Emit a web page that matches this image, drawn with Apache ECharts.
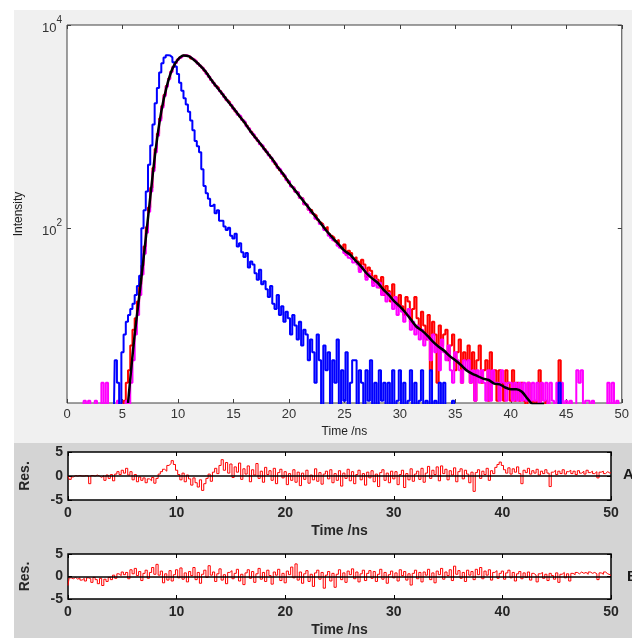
<!DOCTYPE html>
<html><head><meta charset="utf-8">
<script src="https://cdn.jsdelivr.net/npm/echarts@6/dist/echarts.min.js"></script>
<style>html,body{margin:0;padding:0;background:#fff;}#c{width:632px;height:638px;}</style>
</head><body><div id="c"></div>
<script>
// Histogram channels: time = channelStart + index * channelWidth (ns)
const channelStart = 0, channelWidth = 0.2;
// Fit curve samples: time = fitStart + index * fitStep (ns)
const fitStart = 5.5, fitStep = 0.5;

// Instrument response (blue), counts per channel
const irfCounts = [
 1,1,1,1,1,1,1,1,1,1,
 1,1,1,1,1,1,1,1,1,1,
 1,1,5,3,1,6,9,12,14,16,
 18,22,27,34,100,150,230,420,650,1050,
 1700,2400,3400,4200,4800,5050,5000,4800,4300,3900,
 3300,2700,2250,1900,1650,1400,1150,920,720,640,
 560,380,260,220,195,165,172,140,150,118,
 118,104,96,101,84,79,88,66,71,58,
 52,57,41,47,44,36,31,39,28,30,
 25,21,27,18,16,22,14,17,12,15,
 13,9,14,11,8,12,7,10,9,5,
 8,6,3,9,5,1,7,4,6,1,
 5,3,8,1,4,2,6,1,3,5,
 5,1,4,3,1,4,2,5,1,3,
 1,4,2,3,1,3,1,4,1,2,
 4,1,3,1,2,4,1,3,1,2,
 4,1,2,1,4,1,2,1,3,1,
 3,1,1,1,2,1,1,1,1,1,
 1,1,1,1,1,1,1,1,1,1,
 1,1,1,1,1,1,1,1,1,1,
 1,1,1,1,1,1,1,1,1,1,
 1,1,1,1,1,1,1,1,1,1,
 1,1,3,1,1,1,1,1,1,1,
 1,1,1,1,1,1,1,1,1,1,
 1,1,1,1,1,1,1,1,1,1,
 1
];
// Decay of sample A (red)
const decayA = [
 1,1,1,1,1,1,1,1,1,1,
 1,1,1,1,1,1,1,1,1,1,
 1,1,1,1,1,1,2,3,4,7,
 10,13,19,28,43,66,102,160,250,392,
 600,850,1200,1590,2050,2510,2950,3460,3890,4260,
 4570,4790,5010,5020,4990,4900,4680,4570,4370,4170,
 3980,3800,3550,3310,3090,2880,2700,2510,2400,2240,
 2090,1950,1820,1740,1620,1510,1410,1320,1260,1170,
 1100,1020,955,890,832,776,725,676,645,603,
 562,525,490,457,426,398,372,347,324,302,
 282,258,250,228,224,199,196,172,170,152,
 151,138,133,121,114,109,99,103,88,84,
 81,74,77,66,63,69,55,60,57,50,
 52,47,39,49,44,33,41,38,29,34,
 31,26,33,22,27,24,19,28,21,17,
 22,17,14,21,19,12,16,21,13,10,
 15,11,8,14,4,12,9,3,11,7,
 9,10,5,7,9,4,6,8,3,6,
 5,7,3,6,2,5,7,3,4,5,
 2,6,3,4,2,4,3,2,4,3,
 2,4,2,3,2,3,2,1,3,2,
 1,2,1,4,1,1,2,1,1,1,
 1,1,5,1,1,1,1,1,1,1,
 1,1,1,1,1,1,1,1,1,1,
 1,1,1,1,1,1,1,1,1,1,
 1
];
// Decay of sample B (magenta)
const decayB = [
 1,1,1,1,1,1,1,1,2,1,
 2,1,1,2,1,1,3,1,3,1,
 1,1,1,2,1,1,1,2,1,3,
 5,9,14,22,35,56,90,145,230,365,
 560,810,1150,1540,2000,2470,2920,3420,3860,4230,
 4550,4770,4990,5030,5000,4890,4700,4560,4380,4160,
 3970,3790,3560,3300,3100,2870,2690,2520,2390,2230,
 2100,1940,1830,1730,1630,1500,1420,1310,1270,1160,
 1110,1010,960,880,840,770,730,670,650,596,
 568,518,495,450,431,392,378,341,330,296,
 288,257,250,228,224,199,195,172,170,152,
 142,136,124,119,110,106,96,92,84,80,
 76,73,67,64,62,57,54,51,49,46,
 48,44,37,42,39,31,36,33,27,31,
 26,29,22,24,19,23,20,16,21,14,
 17,15,12,14,16,10,12,9,11,8,
 10,7,9,8,5,9,6,7,4,8,
 6,5,7,4,3,6,5,4,3,5,
 4,5,3,4,2,4,3,4,3,2,
 4,2,4,3,3,2,4,3,2,3,
 3,2,3,2,3,2,3,2,3,2,
 3,2,3,1,3,2,3,1,3,2,
 1,3,2,3,1,2,1,2,1,1,
 4,3,4,1,2,2,1,2,1,1,
 1,1,1,1,3,1,3,1,2,1,
 1
];
// Fitted decay (black)
const fitCurve = [
 1.9,7.1,20.9,63,200,603,1413,2512,3715,4571,
 5012,4898,4467,3981,3467,2884,2455,2089,1778,1514,
 1288,1096,912,776,661,562,479,398,339,282,
 240,204,174,148,126,107,91,79,69,60,
 55,48,42,36,32,29,25,22,19,17,
 14.8,12.6,10.7,9.8,8.7,7.6,6.8,6.2,5.5,5.0,
 4.5,4.0,3.7,3.5,3.3,3.2,2.95,2.9,2.7,2.6,
 2.6,2.45,2.1,1.86,1.86,1.86
];
// Weighted residuals, fit A and fit B
const residualA = [
 0,-0.7,-0.2,0.1,0,0.1,0,0,0.1,0,
 -1.6,0.1,0,0.2,0,-0.3,0.1,-0.9,0.2,-0.5,
 0.3,-1.0,0.4,0.9,0.3,1.2,0.6,1.6,0.2,0.9,
 -0.8,0.3,-1.2,-0.2,-0.9,-0.4,-1.4,-0.6,-1.0,-0.3,
 -1.5,-0.5,0.4,0.9,1.4,1.0,2.2,2.6,3.2,2.4,
 1.2,0.3,-0.8,0.6,-1.2,0.2,-0.6,-1.9,-0.4,-1.4,
 -2.3,-0.8,-3.0,-1.6,-0.5,0.4,-1.1,0.8,1.6,0.5,
 2.2,3.4,1.2,2.8,0.6,2.5,-0.3,1.9,0.8,2.7,
 -0.7,1.5,0.4,2.1,-1.2,1.3,0.2,2.6,-0.5,1.0,
 -1.3,1.8,0.3,1.1,-0.9,1.6,-1.6,0.7,1.4,-0.4,
 0.9,-1.8,0.5,-0.9,1.3,-1.3,0.8,-2.0,0.6,-0.7,
 1.2,-1.5,0.2,-0.8,1.5,-1.1,0.7,-1.7,0.4,1.0,
 -0.6,1.3,-1.4,0.5,-0.9,1.1,-2.1,0.6,-0.5,1.4,
 -1.0,0.9,-1.6,0.3,1.2,-0.8,0.5,-1.9,0.8,-0.4,
 1.1,-1.2,0.4,-2.2,0.7,1.3,-0.9,0.6,-1.4,1.0,
 -0.6,0.9,-1.8,0.3,1.2,-2.4,0.5,-0.8,1.5,-1.1,
 0.4,1.0,-0.7,1.6,-1.3,0.6,2.0,-0.5,1.2,0.3,
 1.9,-1.0,2.1,0.5,1.4,-0.8,1.1,0.2,1.7,-1.2,
 0.9,1.5,-0.6,1.2,0.4,-1.4,0.8,-3.2,0.7,1.3,
 -0.5,1.0,0.3,1.6,-0.9,1.1,0.5,1.8,2.4,2.9,
 2.2,1.3,0.6,1.7,0.4,1.5,0.8,1.9,0.5,-1.6,
 1.2,0.7,1.6,0.4,1.1,0.6,1.4,0.2,1.0,0.5,
 1.3,0.6,-2.2,0.8,1.2,0.3,1.0,0.5,1.3,0.4,
 0.9,1.2,0.5,1.0,0.3,1.1,0.6,1.0,0.4,1.2,
 0.7,1.0,0.5,0.9,-0.4,0.8,1.0,0.5,0.9,0.6,
 0.7
];
const residualB = [
 -2.0,-0.3,-0.5,-0.2,-0.6,-0.3,-0.8,-0.4,-1.0,-0.3,
 -0.5,-1.3,-0.2,-0.7,-1.6,-0.4,-2.0,-0.6,-1.1,-0.2,
 -0.7,0.3,-0.4,0.6,0.2,1.0,0.4,0.9,-0.5,1.5,
 0.6,1.8,0.2,1.1,-0.9,0.7,1.4,-0.4,0.9,2.0,
 0.5,2.7,0.3,1.2,-1.4,0.6,-0.8,1.3,-1.0,0.4,
 1.5,-0.3,1.9,-0.6,0.8,-1.2,1.1,0.2,2.0,-0.7,
 0.9,-1.5,0.5,1.4,-0.2,2.4,0.3,1.0,-1.1,0.6,
 1.7,-0.8,0.4,-1.6,0.9,1.3,-0.5,0.7,1.6,-1.0,
 0.5,-1.8,0.8,1.5,-0.4,1.1,-1.3,0.6,1.8,-0.6,
 0.9,-1.1,1.4,0.2,-1.7,1.0,0.3,1.6,-0.9,0.7,
 -1.4,1.2,0.4,2.1,-0.3,2.8,-0.8,1.0,-1.5,0.6,
 1.3,-1.1,0.5,-2.2,0.8,1.4,-0.6,0.9,-2.6,0.3,
 1.1,-1.0,0.7,-2.4,0.5,1.5,-0.7,0.8,-1.3,1.2,
 0.4,1.7,-0.5,1.0,-1.2,0.6,1.4,-0.9,0.7,1.3,
 -0.4,1.1,-1.1,0.5,1.6,-0.6,0.9,-1.5,0.4,1.2,
 -0.3,0.8,-1.0,1.5,0.2,1.1,-0.8,0.6,-1.9,0.7,
 1.4,-0.5,0.9,-1.2,1.0,0.3,1.6,-0.7,0.8,-1.4,
 1.2,0.4,1.8,-0.6,1.0,0.2,1.5,-0.9,2.3,0.5,
 1.3,-0.4,0.9,-1.1,1.4,0.3,1.1,-0.7,1.6,0.4,
 2.0,-0.5,1.2,0.3,1.5,-0.8,0.9,1.3,-0.4,0.7,
 1.2,-0.6,0.8,1.4,-0.3,0.9,-1.0,0.6,1.1,-0.5,
 0.8,-0.2,1.0,-0.8,0.7,0.3,-1.2,0.6,0.9,-0.4,
 0.5,-0.9,0.7,0.2,-0.6,0.8,-1.3,0.5,0.9,-0.3,
 0.6,-1.0,0.7,0.4,0.9,0.6,1.0,0.7,0.9,0.5,
 1.0,0.7,0.9,0.6,-0.7,0.8,0.5,1.0,0.6,0.4,
 0.2
];
const intensityTicks = [100, 10000];
const residualLabels = ['A', 'B'];

function toXY(values, start, step) {
  return values.map((v, i) => [Math.round((start + i * step) * 1000) / 1000, v]);
}

const font = '"Liberation Sans", Arial, sans-serif';
const chart = echarts.init(document.getElementById('c'), null, {renderer: 'canvas'});

function tickAxisX(grid, interval, pos, color, labelOpt, nameOpt) {
  const ax = {
    gridIndex: grid, type: 'value', min: 0, max: 50, interval: interval, position: pos,
    axisLine: {show: false, onZero: false}, splitLine: {show: false},
    axisTick: {show: true, inside: true, length: 4, lineStyle: {color: color, width: 1}},
    axisLabel: labelOpt || {show: false}
  };
  if (nameOpt) Object.assign(ax, nameOpt);
  return ax;
}
function resY(grid, pos, withLabel) {
  const ax = {
    gridIndex: grid, type: 'value', min: -5, max: 5, interval: 5, position: pos,
    axisLine: {show: false, onZero: false}, splitLine: {show: false},
    axisTick: {show: true, inside: true, length: 4, lineStyle: {color: '#000'}},
    axisLabel: withLabel ? {fontSize: 14, fontWeight: 'bold', color: '#262626', fontFamily: font, margin: 5} : {show: false}
  };
  if (withLabel) Object.assign(ax, {name: 'Res.', nameLocation: 'middle', nameGap: 36,
    nameTextStyle: {fontSize: 14, fontWeight: 'bold', color: '#262626', fontFamily: font}});
  return ax;
}
const resLabel = {fontSize: 14, fontWeight: 'bold', color: '#262626', fontFamily: font, margin: 6};
const resName = {name: 'Time /ns', nameLocation: 'middle', nameGap: 24,
  nameTextStyle: {fontSize: 14, fontWeight: 'bold', color: '#262626', fontFamily: font}};

const logLabel = {
  customValues: intensityTicks, margin: 5,
  formatter: v => '{b|10}{s|' + Math.round(Math.log10(v)) + '}',
  rich: {
    b: {fontSize: 13, color: '#333', fontFamily: font, lineHeight: 20, verticalAlign: 'bottom'},
    s: {fontSize: 10, color: '#333', fontFamily: font, lineHeight: 12, verticalAlign: 'top'}
  }
};

const option = {
  animation: false,
  graphic: [
    {type: 'rect', z: -10, silent: true, shape: {x: 14, y: 10, width: 618, height: 433}, style: {fill: '#f0f0f0'}},
    {type: 'rect', z: -10, silent: true, shape: {x: 14, y: 443, width: 618, height: 195}, style: {fill: '#d4d4d4'}},
    {type: 'text', left: 623, top: 467, style: {text: residualLabels[0], font: 'bold 15px ' + font, fill: '#1a1a1a'}},
    {type: 'text', left: 627, top: 569, style: {text: residualLabels[1], font: 'bold 15px ' + font, fill: '#1a1a1a'}}
  ],
  grid: [
    {left: 67, top: 25, width: 556, height: 378, show: true, backgroundColor: '#fff', borderColor: '#404040', borderWidth: 1},
    {left: 68, top: 452, width: 543, height: 48, show: true, backgroundColor: '#fff', borderColor: '#000', borderWidth: 1.5},
    {left: 68, top: 554, width: 543, height: 47, show: true, backgroundColor: '#fff', borderColor: '#000', borderWidth: 1.5}
  ],
  xAxis: [
    tickAxisX(0, 5, 'bottom', '#404040', {fontSize: 13, color: '#333', fontFamily: font, margin: 5},
      {name: 'Time /ns', nameLocation: 'middle', nameGap: 23, nameTextStyle: {fontSize: 12, color: '#222', fontFamily: font}}),
    tickAxisX(0, 5, 'top', '#404040'),
    tickAxisX(1, 10, 'bottom', '#000', resLabel, resName),
    tickAxisX(1, 10, 'top', '#000'),
    tickAxisX(2, 10, 'bottom', '#000', resLabel, resName),
    tickAxisX(2, 10, 'top', '#000')
  ],
  yAxis: [
    {gridIndex: 0, type: 'log', logBase: 10, min: 1.9, max: 10000, position: 'left',
     axisLine: {show: false, onZero: false}, splitLine: {show: false}, minorTick: {show: false},
     axisTick: {show: true, inside: true, length: 4, customValues: intensityTicks, lineStyle: {color: '#404040'}},
     axisLabel: logLabel,
     name: 'Intensity', nameLocation: 'middle', nameGap: 42,
     nameTextStyle: {fontSize: 12, color: '#222', fontFamily: font}},
    {gridIndex: 0, type: 'log', logBase: 10, min: 1.9, max: 10000, position: 'right',
     axisLine: {show: false, onZero: false}, splitLine: {show: false},
     axisTick: {show: true, inside: true, length: 4, customValues: intensityTicks, lineStyle: {color: '#404040'}},
     axisLabel: {show: false}},
    resY(1, 'left', true),
    resY(1, 'right', false),
    resY(2, 'left', true),
    resY(2, 'right', false)
  ],
  series: [
    {type: 'line', name: 'A', xAxisIndex: 0, yAxisIndex: 0, data: toXY(decayA, channelStart, channelWidth),
     step: 'middle', showSymbol: false, lineStyle: {color: '#ff0000', width: 2}},
    {type: 'line', name: 'B', xAxisIndex: 0, yAxisIndex: 0, data: toXY(decayB, channelStart, channelWidth),
     step: 'middle', showSymbol: false, lineStyle: {color: '#ff00ff', width: 2}},
    {type: 'line', name: 'IRF', xAxisIndex: 0, yAxisIndex: 0, data: toXY(irfCounts, channelStart, channelWidth),
     step: 'middle', showSymbol: false, lineStyle: {color: '#0000ff', width: 2}},
    {type: 'line', name: 'Fit', xAxisIndex: 0, yAxisIndex: 0, data: toXY(fitCurve, fitStart, fitStep),
     showSymbol: false, smooth: 0.3, lineStyle: {color: '#000', width: 2.5}},
    {type: 'line', name: 'ResA', xAxisIndex: 2, yAxisIndex: 2, data: toXY(residualA, channelStart, channelWidth),
     step: 'middle', showSymbol: false, lineStyle: {color: '#ff0000', width: 1},
     markLine: {silent: true, symbol: 'none', label: {show: false}, lineStyle: {color: '#000', width: 1.5, type: 'solid'}, data: [{yAxis: 0}]}},
    {type: 'line', name: 'ResB', xAxisIndex: 4, yAxisIndex: 4, data: toXY(residualB, channelStart, channelWidth),
     step: 'middle', showSymbol: false, lineStyle: {color: '#ff0000', width: 1},
     markLine: {silent: true, symbol: 'none', label: {show: false}, lineStyle: {color: '#000', width: 1.5, type: 'solid'}, data: [{yAxis: 0}]}}
  ]
};
chart.setOption(option);
</script>
</body></html>
